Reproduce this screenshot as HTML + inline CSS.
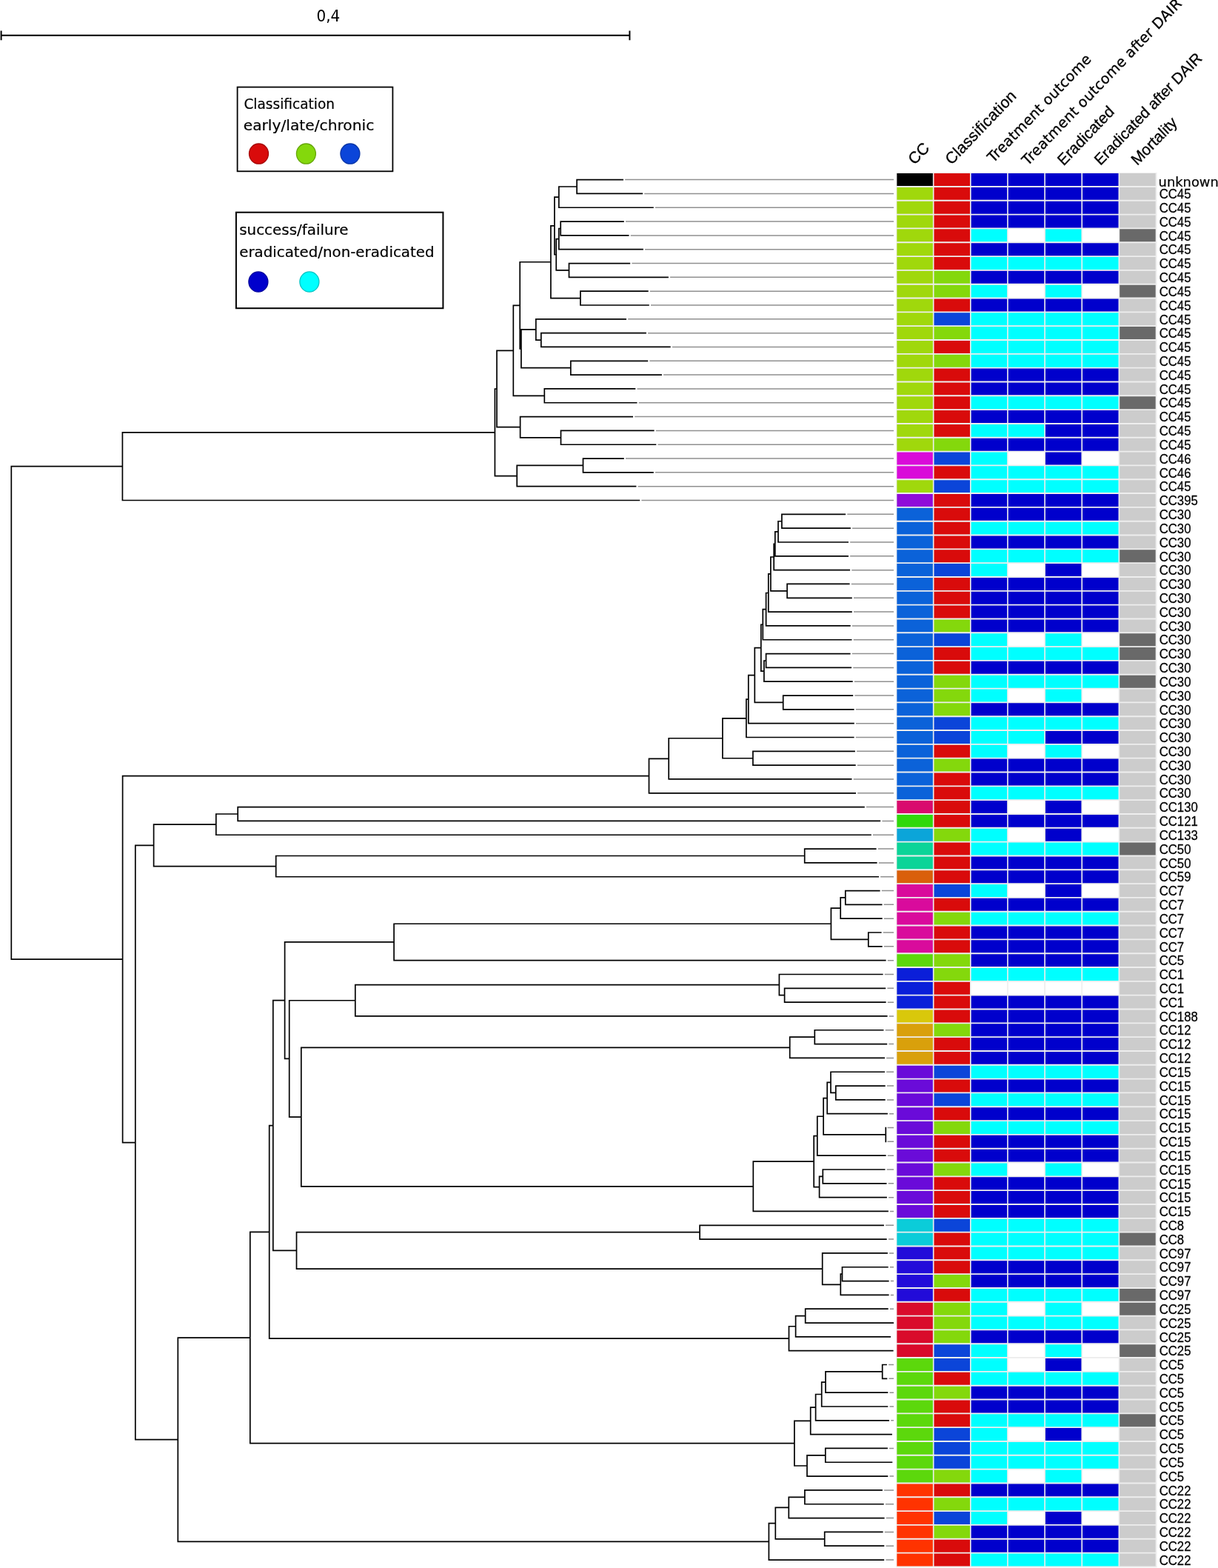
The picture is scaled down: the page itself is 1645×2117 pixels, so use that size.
<!DOCTYPE html>
<html lang="en">
<head>
<meta charset="utf-8">
<title>Phylogenetic tree with clinical metadata</title>
<style>
html,body{margin:0;padding:0;background:#fff}
body{width:1645px;height:2117px;overflow:hidden}
svg{display:block}
text{fill:#000}
.ls{font-family:"Liberation Sans",sans-serif}
.dv{font-family:"DejaVu Sans",sans-serif}
.hd{stroke:#000;stroke-width:0.3px}
.lg{stroke:#000;stroke-width:0.2px}
.rl text{stroke:#000;stroke-width:0.25px}
</style>
</head>
<body>
<svg width="1645" height="2117" viewBox="0 0 1645 2117" role="img" aria-label="Phylogenetic tree with clonal complex and clinical outcome heatmap">
<rect width="1645" height="2117" fill="#fff"/>
<g stroke="#000" stroke-width="2" fill="none"><path d="M1.5 47.8H850.5M1.6 41.4V54.2M850.4 41.4V54.2"/></g>
<text transform="translate(443.4 29.3) scale(1 1.06)" text-anchor="middle" class="dv" font-size="20">0,4</text>
<rect x="320.6" y="117.6" width="209.8" height="113.7" fill="#fff" stroke="#000" stroke-width="1.8"/>
<text x="329.4" y="147.4" class="dv lg" font-size="19.9" textLength="122.6" lengthAdjust="spacingAndGlyphs">Classification</text>
<text x="328.7" y="176.1" class="dv lg" font-size="19.9" textLength="176.6" lengthAdjust="spacingAndGlyphs">early/late/chronic</text>
<ellipse cx="349.5" cy="207.6" rx="13" ry="13.6" fill="#d90b0b" stroke="#a60808" stroke-width="1.3"/>
<ellipse cx="413.4" cy="207.6" rx="13" ry="13.6" fill="#84d80c" stroke="#66a609" stroke-width="1.3"/>
<ellipse cx="472.9" cy="207.6" rx="13" ry="13.6" fill="#0b45d9" stroke="#0835a6" stroke-width="1.3"/>
<rect x="318.9" y="286.7" width="279.5" height="129.5" fill="#fff" stroke="#000" stroke-width="2"/>
<text x="323.2" y="317.4" class="dv lg" font-size="19.9" textLength="147.4" lengthAdjust="spacingAndGlyphs">success/failure</text>
<text x="323.2" y="346.6" class="dv lg" font-size="19.9" textLength="263.3" lengthAdjust="spacingAndGlyphs">eradicated/non-eradicated</text>
<ellipse cx="348.9" cy="380.5" rx="13" ry="13.6" fill="#0000cc" stroke="#00009c" stroke-width="1.3"/>
<ellipse cx="417.9" cy="380.5" rx="13" ry="13.6" fill="#00ffff" stroke="#00c3c3" stroke-width="1.3"/>
<path d="M844.2 242.6H1207M870.3 261.42H1207M885 280.25H1207M845 299.07H1207M851.7 317.89H1207M871.1 336.71H1207M853.4 355.53H1207M905.1 374.36H1207M877.9 393.18H1207M879 412H1207M848.2 430.83H1207M875.1 449.65H1207M907.9 468.47H1207M877.4 487.29H1207M896.1 506.12H1207M860.5 524.94H1207M862.7 543.76H1207M857.2 562.58H1207M885.8 581.4H1207M888.5 600.23H1207M845 619.05H1207M885 637.87H1207M861.6 656.7H1207M866.4 675.52H1207M1144.3 694.34H1207M1151.1 713.16H1207M1148.2 731.99H1207M1148.2 750.81H1207M1150.3 769.63H1207M1149.8 788.45H1207M1153 807.28H1207M1153 826.1H1207M1150.9 844.92H1207M1152.7 863.74H1207M1150.8 882.57H1207M1152.3 901.39H1207M1153.9 920.21H1207M1154.4 939.03H1207M1155.8 957.86H1207M1156 976.68H1207M1155.8 995.5H1207M1157.1 1014.32H1207M1157.9 1033.14H1207M1152.7 1051.97H1207M1158.2 1070.79H1207M1170 1089.61H1207M1191.4 1108.43H1207M1179 1127.26H1207M1185.8 1146.08H1207M1186.8 1164.9H1207M1189.2 1183.73H1207M1190.8 1202.55H1207M1193.7 1221.37H1207M1193.9 1240.19H1207M1192.8 1259.02H1207M1193.9 1277.84H1207M1198.8 1296.66H1207M1194.8 1315.48H1207M1198.4 1334.31H1207M1198.8 1353.13H1207M1200.8 1371.95H1207M1195.7 1390.77H1207M1200.4 1409.6H1207M1197.2 1428.42H1207M1197.2 1447.24H1207M1197.9 1466.06H1207M1197.9 1484.88H1207M1201.1 1503.71H1207M1198.5 1522.53H1207M1198.5 1541.35H1207M1198.8 1560.17H1207M1197.7 1579H1207M1199.7 1597.82H1207M1200.1 1616.64H1207M1202.1 1635.46H1207M1196.1 1654.29H1207M1199.9 1673.11H1207M1201.1 1691.93H1207M1201.9 1710.76H1207M1202.8 1729.58H1207M1202.8 1748.4H1207M1201.9 1767.22H1207M1200.1 1842.51H1207M1200.5 1861.34H1207M1201.5 1880.16H1207M1201.5 1898.98H1207M1203.2 1917.8H1207M1201.1 1955.45H1207M1201.5 1993.09H1207M1194.1 2011.91H1207M1195.9 2030.74H1207M1196.8 2049.56H1207M1194.8 2068.38H1207M1196.5 2087.21H1207M1196.4 2106.03H1207" stroke="#909090" stroke-width="1.5" fill="none"/>
<path d="M778.25 242.6H842M778.25 261.42H868.1M779.1 241.75V262.27M753.95 252.01H779.1M753.95 280.25H882.8M754.8 251.16V281.1M748.05 266.13H754.8M756.35 299.07H842.8M756.35 317.89H849.5M757.2 298.22V318.74M753.95 308.48H757.2M753.95 336.71H868.9M754.8 307.63V337.56M750.35 322.6H754.8M767.65 355.53H851.2M767.65 374.36H902.9M768.5 354.68V375.21M750.35 364.95H768.5M751.2 321.75V365.8M748.05 343.77H751.2M748.9 265.28V344.62M743.05 304.95H748.9M783.05 393.18H875.7M783.05 412H876.8M783.9 392.33V412.85M743.05 402.59H783.9M743.9 304.1V403.44M701.35 353.77H743.9M722.95 430.83H846M729.95 449.65H872.9M729.95 468.47H905.7M730.8 448.8V469.32M722.95 459.06H730.8M723.8 429.98V459.91M703.05 444.94H723.8M769.95 487.29H875.2M769.95 506.12H893.9M770.8 486.44V506.97M703.05 496.7H770.8M703.9 444.09V497.55M701.35 470.82H703.9M702.2 352.92V471.67M692.45 412.3H702.2M734.45 524.94H858.3M734.45 543.76H860.5M735.3 524.09V544.61M692.45 534.35H735.3M693.3 411.45V535.2M670.15 473.32H693.3M701.75 562.58H855M756.65 581.4H883.6M756.65 600.23H886.3M757.5 580.55V601.08M701.75 590.82H757.5M702.6 561.73V591.67M670.15 576.7H702.6M671 472.47V577.55M667.55 525.01H671M786.65 619.05H842.8M786.65 637.87H882.8M787.5 618.2V638.72M697.35 628.46H787.5M697.35 656.7H859.4M698.2 627.61V657.55M667.55 642.58H698.2M668.4 524.16V643.43M164.55 583.79H668.4M164.55 675.52H864.2M165.4 582.94V676.37M14.45 629.66H165.4M1055.05 694.34H1142.1M1055.05 713.16H1148.9M1055.9 693.49V714.01M1050.15 703.75H1055.9M1050.15 731.99H1146M1051 702.9V732.84M1045.95 717.87H1051M1045.95 750.81H1146M1046.8 717.02V751.66M1044.35 734.34H1046.8M1044.35 769.63H1148.1M1045.2 733.49V770.48M1040.05 751.98H1045.2M1062.25 788.45H1147.6M1062.25 807.28H1150.8M1063.1 787.6V808.13M1040.05 797.86H1063.1M1040.9 751.13V798.71M1036.95 774.92H1040.9M1036.95 826.1H1150.8M1037.8 774.07V826.95M1033.75 800.51H1037.8M1033.75 844.92H1148.7M1034.6 799.66V845.77M1029.45 822.72H1034.6M1029.45 863.74H1150.5M1030.3 821.87V864.59M1026.95 843.23H1030.3M1033.75 882.57H1148.6M1033.75 901.39H1150.1M1034.6 881.72V902.24M1031.05 891.98H1034.6M1031.05 920.21H1151.7M1031.9 891.13V921.06M1026.95 906.09H1031.9M1027.8 842.38V906.94M1018.45 874.66H1027.8M1056.85 939.03H1152.2M1056.85 957.86H1153.6M1057.7 938.18V958.71M1018.45 948.44H1057.7M1019.3 873.81V949.29M1009.95 911.55H1019.3M1009.95 976.68H1153.8M1010.8 910.7V977.53M1007.05 944.11H1010.8M1007.05 995.5H1153.6M1007.9 943.26V996.35M975.05 969.81H1007.9M1016.05 1014.32H1154.9M1016.05 1033.14H1155.7M1016.9 1013.47V1033.99M975.05 1023.73H1016.9M975.9 968.96V1024.58M902.35 996.77H975.9M902.35 1051.97H1150.5M903.2 995.92V1052.82M875.65 1024.37H903.2M875.65 1070.79H1156M876.5 1023.52V1071.64M164.75 1047.58H876.5M320.35 1089.61H1167.8M320.35 1108.43H1189.2M321.2 1088.76V1109.28M290.95 1099.02H321.2M290.95 1127.26H1176.8M291.8 1098.17V1128.11M206.75 1113.14H291.8M1085.85 1146.08H1183.6M1085.85 1164.9H1184.6M1086.7 1145.23V1165.75M371.85 1155.49H1086.7M371.85 1183.73H1187M372.7 1154.64V1184.58M206.75 1169.61H372.7M207.6 1112.29V1170.46M181.95 1141.37H207.6M1140.95 1202.55H1188.6M1140.95 1221.37H1191.5M1141.8 1201.7V1222.22M1134.35 1211.96H1141.8M1134.35 1240.19H1191.7M1135.2 1211.11V1241.04M1121.55 1226.08H1135.2M1171.95 1259.02H1190.6M1171.95 1277.84H1191.7M1172.8 1258.17V1278.69M1121.55 1268.43H1172.8M1122.4 1225.23V1269.28M531.25 1247.25H1122.4M531.25 1296.66H1196.6M532.1 1246.4V1297.51M383.75 1271.96H532.1M1051.55 1315.48H1192.6M1058.75 1334.31H1196.2M1058.75 1353.13H1196.6M1059.6 1333.46V1353.98M1051.55 1343.72H1059.6M1052.4 1314.63V1344.57M478.95 1329.6H1052.4M478.95 1371.95H1198.6M479.8 1328.75V1372.8M389.85 1350.77H479.8M1099.45 1390.77H1193.5M1099.45 1409.6H1198.2M1100.3 1389.92V1410.44M1065.85 1400.18H1100.3M1065.85 1428.42H1195M1066.7 1399.33V1429.27M405.95 1414.3H1066.7M1121.15 1447.24H1195M1127.95 1466.06H1195.7M1127.95 1484.88H1195.7M1128.8 1465.21V1485.73M1121.15 1475.47H1128.8M1122 1446.39V1476.32M1116.35 1461.36H1122M1116.35 1503.71H1198.9M1117.2 1460.51V1504.56M1111.25 1482.53H1117.2M1196.3 1521.68V1542.2M1111.25 1531.94H1196.3M1112.1 1481.68V1532.79M1102.95 1507.24H1112.1M1102.95 1560.17H1196.6M1103.8 1506.39V1561.02M1098.35 1533.71H1103.8M1110.45 1579H1195.5M1110.45 1597.82H1197.5M1111.3 1578.15V1598.67M1105.75 1588.41H1111.3M1105.75 1616.64H1197.9M1106.6 1587.56V1617.49M1098.35 1602.53H1106.6M1099.2 1532.86V1603.38M1016.45 1568.12H1099.2M1016.45 1635.46H1199.9M1017.3 1567.27V1636.31M405.95 1601.79H1017.3M406.8 1413.45V1602.64M389.85 1508.05H406.8M390.7 1349.92V1508.9M383.75 1429.41H390.7M384.6 1271.11V1430.26M367.95 1350.68H384.6M944.25 1654.29H1193.9M944.25 1673.11H1197.7M945.1 1653.44V1673.96M399.65 1663.7H945.1M1109.85 1691.93H1198.9M1136.65 1710.76H1199.7M1136.65 1729.58H1200.6M1137.5 1709.91V1730.43M1134.45 1720.17H1137.5M1134.45 1748.4H1200.6M1135.3 1719.32V1749.25M1109.85 1734.28H1135.3M1110.7 1691.08V1735.13M399.65 1713.11H1110.7M400.5 1662.85V1713.96M367.95 1688.4H400.5M368.8 1349.83V1689.25M362.85 1519.54H368.8M1086.85 1767.22H1199.7M1086.85 1786.05H1207M1087.7 1766.37V1786.89M1073.75 1776.63H1087.7M1073.75 1804.87H1203M1074.6 1775.78V1805.72M1064.65 1790.75H1074.6M1064.65 1823.69H1206.6M1065.5 1789.9V1824.54M362.85 1807.22H1065.5M363.7 1518.69V1808.07M336.95 1663.38H363.7M1190.85 1842.51H1197.9M1190.85 1861.34H1198.3M1191.7 1841.66V1862.18M1114.15 1851.92H1191.7M1114.15 1880.16H1199.3M1115 1851.07V1881.01M1108.85 1866.04H1115M1108.85 1898.98H1199.3M1109.7 1865.19V1899.83M1100.75 1882.51H1109.7M1100.75 1917.8H1201M1101.6 1881.66V1918.65M1093.85 1900.16H1101.6M1093.85 1936.62H1204.9M1094.7 1899.31V1937.47M1072.05 1918.39H1094.7M1113.95 1955.45H1198.9M1113.95 1974.27H1205.3M1114.8 1954.6V1975.12M1089.15 1964.86H1114.8M1089.15 1993.09H1199.3M1090 1964.01V1993.94M1072.05 1978.98H1090M1072.9 1917.54V1979.83M336.95 1948.68H1072.9M337.8 1662.53V1949.53M239.45 1806.03H337.8M1086.05 2011.91H1191.9M1086.05 2030.74H1193.7M1086.9 2011.07V2031.59M1064.45 2021.33H1086.9M1064.45 2049.56H1194.6M1065.3 2020.48V2050.41M1046.45 2035.44H1065.3M1112.85 2068.38H1192.6M1112.85 2087.21H1194.3M1113.7 2067.53V2088.06M1046.45 2077.79H1113.7M1047.3 2034.59V2078.64M1037.55 2056.62H1047.3M1037.55 2106.03H1194.2M1038.4 2055.77V2106.88M239.45 2081.32H1038.4M240.3 1805.18V2082.17M181.95 1943.68H240.3M182.8 1140.52V1944.53M164.75 1542.53H182.8M165.6 1046.73V1543.38M14.45 1295.05H165.6M15.3 628.81V1295.9" stroke="#000" stroke-width="1.7" fill="none"/>
<rect x="1210.4" y="233" width="352.2" height="1883.3" fill="#eeeeee"/>
<path d="M1211.35 234.07h48.5v16.95h-48.5z" fill="#000000"/>
<path d="M1261.49 234.07h48.5v16.95h-48.5zM1261.49 252.9h48.5v16.95h-48.5zM1261.49 271.72h48.5v16.95h-48.5zM1261.49 290.54h48.5v16.95h-48.5zM1261.49 309.36h48.5v16.95h-48.5zM1261.49 328.19h48.5v16.95h-48.5zM1261.49 347.01h48.5v16.95h-48.5zM1261.49 403.48h48.5v16.95h-48.5zM1261.49 459.94h48.5v16.95h-48.5zM1261.49 497.59h48.5v16.95h-48.5zM1261.49 516.41h48.5v16.95h-48.5zM1261.49 535.24h48.5v16.95h-48.5zM1261.49 554.06h48.5v16.95h-48.5zM1261.49 572.88h48.5v16.95h-48.5zM1261.49 629.35h48.5v16.95h-48.5zM1261.49 666.99h48.5v16.95h-48.5zM1261.49 685.82h48.5v16.95h-48.5zM1261.49 704.64h48.5v16.95h-48.5zM1261.49 723.46h48.5v16.95h-48.5zM1261.49 742.28h48.5v16.95h-48.5zM1261.49 779.93h48.5v16.95h-48.5zM1261.49 798.75h48.5v16.95h-48.5zM1261.49 817.57h48.5v16.95h-48.5zM1261.49 874.04h48.5v16.95h-48.5zM1261.49 892.86h48.5v16.95h-48.5zM1261.49 1005.8h48.5v16.95h-48.5zM1261.49 1043.44h48.5v16.95h-48.5zM1261.49 1062.27h48.5v16.95h-48.5zM1261.49 1081.09h48.5v16.95h-48.5zM1261.49 1099.91h48.5v16.95h-48.5zM1261.49 1137.56h48.5v16.95h-48.5zM1261.49 1156.38h48.5v16.95h-48.5zM1261.49 1175.2h48.5v16.95h-48.5zM1261.49 1212.85h48.5v16.95h-48.5zM1261.49 1250.49h48.5v16.95h-48.5zM1261.49 1269.31h48.5v16.95h-48.5zM1261.49 1325.78h48.5v16.95h-48.5zM1261.49 1344.6h48.5v16.95h-48.5zM1261.49 1363.43h48.5v16.95h-48.5zM1261.49 1401.07h48.5v16.95h-48.5zM1261.49 1419.89h48.5v16.95h-48.5zM1261.49 1457.54h48.5v16.95h-48.5zM1261.49 1495.18h48.5v16.95h-48.5zM1261.49 1532.83h48.5v16.95h-48.5zM1261.49 1551.65h48.5v16.95h-48.5zM1261.49 1589.3h48.5v16.95h-48.5zM1261.49 1608.12h48.5v16.95h-48.5zM1261.49 1626.94h48.5v16.95h-48.5zM1261.49 1664.59h48.5v16.95h-48.5zM1261.49 1683.41h48.5v16.95h-48.5zM1261.49 1702.23h48.5v16.95h-48.5zM1261.49 1739.88h48.5v16.95h-48.5zM1261.49 1852.81h48.5v16.95h-48.5zM1261.49 1890.46h48.5v16.95h-48.5zM1261.49 1909.28h48.5v16.95h-48.5zM1261.49 2003.39h48.5v16.95h-48.5zM1261.49 2078.68h48.5v16.95h-48.5zM1261.49 2097.5h48.5v16.95h-48.5z" fill="#d90b0b"/>
<path d="M1311.63 234.07h48.5v16.95h-48.5zM1361.77 234.07h48.5v16.95h-48.5zM1411.91 234.07h48.5v16.95h-48.5zM1462.05 234.07h48.5v16.95h-48.5zM1311.63 252.9h48.5v16.95h-48.5zM1361.77 252.9h48.5v16.95h-48.5zM1411.91 252.9h48.5v16.95h-48.5zM1462.05 252.9h48.5v16.95h-48.5zM1311.63 271.72h48.5v16.95h-48.5zM1361.77 271.72h48.5v16.95h-48.5zM1411.91 271.72h48.5v16.95h-48.5zM1462.05 271.72h48.5v16.95h-48.5zM1311.63 290.54h48.5v16.95h-48.5zM1361.77 290.54h48.5v16.95h-48.5zM1411.91 290.54h48.5v16.95h-48.5zM1462.05 290.54h48.5v16.95h-48.5zM1311.63 328.19h48.5v16.95h-48.5zM1361.77 328.19h48.5v16.95h-48.5zM1411.91 328.19h48.5v16.95h-48.5zM1462.05 328.19h48.5v16.95h-48.5zM1311.63 365.83h48.5v16.95h-48.5zM1361.77 365.83h48.5v16.95h-48.5zM1411.91 365.83h48.5v16.95h-48.5zM1462.05 365.83h48.5v16.95h-48.5zM1311.63 403.48h48.5v16.95h-48.5zM1361.77 403.48h48.5v16.95h-48.5zM1411.91 403.48h48.5v16.95h-48.5zM1462.05 403.48h48.5v16.95h-48.5zM1311.63 497.59h48.5v16.95h-48.5zM1361.77 497.59h48.5v16.95h-48.5zM1411.91 497.59h48.5v16.95h-48.5zM1462.05 497.59h48.5v16.95h-48.5zM1311.63 516.41h48.5v16.95h-48.5zM1361.77 516.41h48.5v16.95h-48.5zM1411.91 516.41h48.5v16.95h-48.5zM1462.05 516.41h48.5v16.95h-48.5zM1311.63 554.06h48.5v16.95h-48.5zM1361.77 554.06h48.5v16.95h-48.5zM1411.91 554.06h48.5v16.95h-48.5zM1462.05 554.06h48.5v16.95h-48.5zM1411.91 572.88h48.5v16.95h-48.5zM1462.05 572.88h48.5v16.95h-48.5zM1311.63 591.7h48.5v16.95h-48.5zM1361.77 591.7h48.5v16.95h-48.5zM1411.91 591.7h48.5v16.95h-48.5zM1462.05 591.7h48.5v16.95h-48.5zM1411.91 610.53h48.5v16.95h-48.5zM1311.63 666.99h48.5v16.95h-48.5zM1361.77 666.99h48.5v16.95h-48.5zM1411.91 666.99h48.5v16.95h-48.5zM1462.05 666.99h48.5v16.95h-48.5zM1311.63 685.82h48.5v16.95h-48.5zM1361.77 685.82h48.5v16.95h-48.5zM1411.91 685.82h48.5v16.95h-48.5zM1462.05 685.82h48.5v16.95h-48.5zM1311.63 723.46h48.5v16.95h-48.5zM1361.77 723.46h48.5v16.95h-48.5zM1411.91 723.46h48.5v16.95h-48.5zM1462.05 723.46h48.5v16.95h-48.5zM1411.91 761.11h48.5v16.95h-48.5zM1311.63 779.93h48.5v16.95h-48.5zM1361.77 779.93h48.5v16.95h-48.5zM1411.91 779.93h48.5v16.95h-48.5zM1462.05 779.93h48.5v16.95h-48.5zM1311.63 798.75h48.5v16.95h-48.5zM1361.77 798.75h48.5v16.95h-48.5zM1411.91 798.75h48.5v16.95h-48.5zM1462.05 798.75h48.5v16.95h-48.5zM1311.63 817.57h48.5v16.95h-48.5zM1361.77 817.57h48.5v16.95h-48.5zM1411.91 817.57h48.5v16.95h-48.5zM1462.05 817.57h48.5v16.95h-48.5zM1311.63 836.4h48.5v16.95h-48.5zM1361.77 836.4h48.5v16.95h-48.5zM1411.91 836.4h48.5v16.95h-48.5zM1462.05 836.4h48.5v16.95h-48.5zM1311.63 892.86h48.5v16.95h-48.5zM1361.77 892.86h48.5v16.95h-48.5zM1411.91 892.86h48.5v16.95h-48.5zM1462.05 892.86h48.5v16.95h-48.5zM1311.63 949.33h48.5v16.95h-48.5zM1361.77 949.33h48.5v16.95h-48.5zM1411.91 949.33h48.5v16.95h-48.5zM1462.05 949.33h48.5v16.95h-48.5zM1411.91 986.98h48.5v16.95h-48.5zM1462.05 986.98h48.5v16.95h-48.5zM1311.63 1024.62h48.5v16.95h-48.5zM1361.77 1024.62h48.5v16.95h-48.5zM1411.91 1024.62h48.5v16.95h-48.5zM1462.05 1024.62h48.5v16.95h-48.5zM1311.63 1043.44h48.5v16.95h-48.5zM1361.77 1043.44h48.5v16.95h-48.5zM1411.91 1043.44h48.5v16.95h-48.5zM1462.05 1043.44h48.5v16.95h-48.5zM1311.63 1081.09h48.5v16.95h-48.5zM1411.91 1081.09h48.5v16.95h-48.5zM1311.63 1099.91h48.5v16.95h-48.5zM1361.77 1099.91h48.5v16.95h-48.5zM1411.91 1099.91h48.5v16.95h-48.5zM1462.05 1099.91h48.5v16.95h-48.5zM1411.91 1118.73h48.5v16.95h-48.5zM1311.63 1156.38h48.5v16.95h-48.5zM1361.77 1156.38h48.5v16.95h-48.5zM1411.91 1156.38h48.5v16.95h-48.5zM1462.05 1156.38h48.5v16.95h-48.5zM1311.63 1175.2h48.5v16.95h-48.5zM1361.77 1175.2h48.5v16.95h-48.5zM1411.91 1175.2h48.5v16.95h-48.5zM1462.05 1175.2h48.5v16.95h-48.5zM1411.91 1194.02h48.5v16.95h-48.5zM1311.63 1212.85h48.5v16.95h-48.5zM1361.77 1212.85h48.5v16.95h-48.5zM1411.91 1212.85h48.5v16.95h-48.5zM1462.05 1212.85h48.5v16.95h-48.5zM1311.63 1250.49h48.5v16.95h-48.5zM1361.77 1250.49h48.5v16.95h-48.5zM1411.91 1250.49h48.5v16.95h-48.5zM1462.05 1250.49h48.5v16.95h-48.5zM1311.63 1269.31h48.5v16.95h-48.5zM1361.77 1269.31h48.5v16.95h-48.5zM1411.91 1269.31h48.5v16.95h-48.5zM1462.05 1269.31h48.5v16.95h-48.5zM1311.63 1288.14h48.5v16.95h-48.5zM1361.77 1288.14h48.5v16.95h-48.5zM1411.91 1288.14h48.5v16.95h-48.5zM1462.05 1288.14h48.5v16.95h-48.5zM1311.63 1344.6h48.5v16.95h-48.5zM1361.77 1344.6h48.5v16.95h-48.5zM1411.91 1344.6h48.5v16.95h-48.5zM1462.05 1344.6h48.5v16.95h-48.5zM1311.63 1363.43h48.5v16.95h-48.5zM1361.77 1363.43h48.5v16.95h-48.5zM1411.91 1363.43h48.5v16.95h-48.5zM1462.05 1363.43h48.5v16.95h-48.5zM1311.63 1382.25h48.5v16.95h-48.5zM1361.77 1382.25h48.5v16.95h-48.5zM1411.91 1382.25h48.5v16.95h-48.5zM1462.05 1382.25h48.5v16.95h-48.5zM1311.63 1401.07h48.5v16.95h-48.5zM1361.77 1401.07h48.5v16.95h-48.5zM1411.91 1401.07h48.5v16.95h-48.5zM1462.05 1401.07h48.5v16.95h-48.5zM1311.63 1419.89h48.5v16.95h-48.5zM1361.77 1419.89h48.5v16.95h-48.5zM1411.91 1419.89h48.5v16.95h-48.5zM1462.05 1419.89h48.5v16.95h-48.5zM1311.63 1457.54h48.5v16.95h-48.5zM1361.77 1457.54h48.5v16.95h-48.5zM1411.91 1457.54h48.5v16.95h-48.5zM1462.05 1457.54h48.5v16.95h-48.5zM1311.63 1495.18h48.5v16.95h-48.5zM1361.77 1495.18h48.5v16.95h-48.5zM1411.91 1495.18h48.5v16.95h-48.5zM1462.05 1495.18h48.5v16.95h-48.5zM1311.63 1532.83h48.5v16.95h-48.5zM1361.77 1532.83h48.5v16.95h-48.5zM1411.91 1532.83h48.5v16.95h-48.5zM1462.05 1532.83h48.5v16.95h-48.5zM1311.63 1551.65h48.5v16.95h-48.5zM1361.77 1551.65h48.5v16.95h-48.5zM1411.91 1551.65h48.5v16.95h-48.5zM1462.05 1551.65h48.5v16.95h-48.5zM1311.63 1589.3h48.5v16.95h-48.5zM1361.77 1589.3h48.5v16.95h-48.5zM1411.91 1589.3h48.5v16.95h-48.5zM1462.05 1589.3h48.5v16.95h-48.5zM1311.63 1608.12h48.5v16.95h-48.5zM1361.77 1608.12h48.5v16.95h-48.5zM1411.91 1608.12h48.5v16.95h-48.5zM1462.05 1608.12h48.5v16.95h-48.5zM1311.63 1626.94h48.5v16.95h-48.5zM1361.77 1626.94h48.5v16.95h-48.5zM1411.91 1626.94h48.5v16.95h-48.5zM1462.05 1626.94h48.5v16.95h-48.5zM1311.63 1702.23h48.5v16.95h-48.5zM1361.77 1702.23h48.5v16.95h-48.5zM1411.91 1702.23h48.5v16.95h-48.5zM1462.05 1702.23h48.5v16.95h-48.5zM1311.63 1721.05h48.5v16.95h-48.5zM1361.77 1721.05h48.5v16.95h-48.5zM1411.91 1721.05h48.5v16.95h-48.5zM1462.05 1721.05h48.5v16.95h-48.5zM1311.63 1796.34h48.5v16.95h-48.5zM1361.77 1796.34h48.5v16.95h-48.5zM1411.91 1796.34h48.5v16.95h-48.5zM1462.05 1796.34h48.5v16.95h-48.5zM1411.91 1833.99h48.5v16.95h-48.5zM1311.63 1871.63h48.5v16.95h-48.5zM1361.77 1871.63h48.5v16.95h-48.5zM1411.91 1871.63h48.5v16.95h-48.5zM1462.05 1871.63h48.5v16.95h-48.5zM1311.63 1890.46h48.5v16.95h-48.5zM1361.77 1890.46h48.5v16.95h-48.5zM1411.91 1890.46h48.5v16.95h-48.5zM1462.05 1890.46h48.5v16.95h-48.5zM1411.91 1928.1h48.5v16.95h-48.5zM1311.63 2003.39h48.5v16.95h-48.5zM1361.77 2003.39h48.5v16.95h-48.5zM1411.91 2003.39h48.5v16.95h-48.5zM1462.05 2003.39h48.5v16.95h-48.5zM1411.91 2041.04h48.5v16.95h-48.5zM1311.63 2059.86h48.5v16.95h-48.5zM1361.77 2059.86h48.5v16.95h-48.5zM1411.91 2059.86h48.5v16.95h-48.5zM1462.05 2059.86h48.5v16.95h-48.5zM1311.63 2078.68h48.5v16.95h-48.5zM1361.77 2078.68h48.5v16.95h-48.5zM1411.91 2078.68h48.5v16.95h-48.5zM1462.05 2078.68h48.5v16.95h-48.5z" fill="#0000cc"/>
<path d="M1512.19 234.07h48.5v16.95h-48.5zM1512.19 252.9h48.5v16.95h-48.5zM1512.19 271.72h48.5v16.95h-48.5zM1512.19 290.54h48.5v16.95h-48.5zM1512.19 328.19h48.5v16.95h-48.5zM1512.19 347.01h48.5v16.95h-48.5zM1512.19 365.83h48.5v16.95h-48.5zM1512.19 403.48h48.5v16.95h-48.5zM1512.19 422.3h48.5v16.95h-48.5zM1512.19 459.94h48.5v16.95h-48.5zM1512.19 478.77h48.5v16.95h-48.5zM1512.19 497.59h48.5v16.95h-48.5zM1512.19 516.41h48.5v16.95h-48.5zM1512.19 554.06h48.5v16.95h-48.5zM1512.19 572.88h48.5v16.95h-48.5zM1512.19 591.7h48.5v16.95h-48.5zM1512.19 610.53h48.5v16.95h-48.5zM1512.19 629.35h48.5v16.95h-48.5zM1512.19 648.17h48.5v16.95h-48.5zM1512.19 666.99h48.5v16.95h-48.5zM1512.19 685.82h48.5v16.95h-48.5zM1512.19 704.64h48.5v16.95h-48.5zM1512.19 723.46h48.5v16.95h-48.5zM1512.19 761.11h48.5v16.95h-48.5zM1512.19 779.93h48.5v16.95h-48.5zM1512.19 798.75h48.5v16.95h-48.5zM1512.19 817.57h48.5v16.95h-48.5zM1512.19 836.4h48.5v16.95h-48.5zM1512.19 892.86h48.5v16.95h-48.5zM1512.19 930.51h48.5v16.95h-48.5zM1512.19 949.33h48.5v16.95h-48.5zM1512.19 968.15h48.5v16.95h-48.5zM1512.19 986.98h48.5v16.95h-48.5zM1512.19 1005.8h48.5v16.95h-48.5zM1512.19 1024.62h48.5v16.95h-48.5zM1512.19 1043.44h48.5v16.95h-48.5zM1512.19 1062.27h48.5v16.95h-48.5zM1512.19 1081.09h48.5v16.95h-48.5zM1512.19 1099.91h48.5v16.95h-48.5zM1512.19 1118.73h48.5v16.95h-48.5zM1512.19 1156.38h48.5v16.95h-48.5zM1512.19 1175.2h48.5v16.95h-48.5zM1512.19 1194.02h48.5v16.95h-48.5zM1512.19 1212.85h48.5v16.95h-48.5zM1512.19 1231.67h48.5v16.95h-48.5zM1512.19 1250.49h48.5v16.95h-48.5zM1512.19 1269.31h48.5v16.95h-48.5zM1512.19 1288.14h48.5v16.95h-48.5zM1512.19 1306.96h48.5v16.95h-48.5zM1512.19 1325.78h48.5v16.95h-48.5zM1512.19 1344.6h48.5v16.95h-48.5zM1512.19 1363.43h48.5v16.95h-48.5zM1512.19 1382.25h48.5v16.95h-48.5zM1512.19 1401.07h48.5v16.95h-48.5zM1512.19 1419.89h48.5v16.95h-48.5zM1512.19 1438.72h48.5v16.95h-48.5zM1512.19 1457.54h48.5v16.95h-48.5zM1512.19 1476.36h48.5v16.95h-48.5zM1512.19 1495.18h48.5v16.95h-48.5zM1512.19 1514.01h48.5v16.95h-48.5zM1512.19 1532.83h48.5v16.95h-48.5zM1512.19 1551.65h48.5v16.95h-48.5zM1512.19 1570.47h48.5v16.95h-48.5zM1512.19 1589.3h48.5v16.95h-48.5zM1512.19 1608.12h48.5v16.95h-48.5zM1512.19 1626.94h48.5v16.95h-48.5zM1512.19 1645.76h48.5v16.95h-48.5zM1512.19 1683.41h48.5v16.95h-48.5zM1512.19 1702.23h48.5v16.95h-48.5zM1512.19 1721.05h48.5v16.95h-48.5zM1512.19 1777.52h48.5v16.95h-48.5zM1512.19 1796.34h48.5v16.95h-48.5zM1512.19 1833.99h48.5v16.95h-48.5zM1512.19 1852.81h48.5v16.95h-48.5zM1512.19 1871.63h48.5v16.95h-48.5zM1512.19 1890.46h48.5v16.95h-48.5zM1512.19 1928.1h48.5v16.95h-48.5zM1512.19 1946.92h48.5v16.95h-48.5zM1512.19 1965.75h48.5v16.95h-48.5zM1512.19 1984.57h48.5v16.95h-48.5zM1512.19 2003.39h48.5v16.95h-48.5zM1512.19 2022.21h48.5v16.95h-48.5zM1512.19 2041.04h48.5v16.95h-48.5zM1512.19 2059.86h48.5v16.95h-48.5zM1512.19 2078.68h48.5v16.95h-48.5zM1512.19 2097.5h48.5v16.95h-48.5z" fill="#cccccc"/>
<path d="M1211.35 252.9h48.5v16.95h-48.5zM1211.35 271.72h48.5v16.95h-48.5zM1211.35 290.54h48.5v16.95h-48.5zM1211.35 309.36h48.5v16.95h-48.5zM1211.35 328.19h48.5v16.95h-48.5zM1211.35 347.01h48.5v16.95h-48.5zM1211.35 365.83h48.5v16.95h-48.5zM1211.35 384.65h48.5v16.95h-48.5zM1211.35 403.48h48.5v16.95h-48.5zM1211.35 422.3h48.5v16.95h-48.5zM1211.35 441.12h48.5v16.95h-48.5zM1211.35 459.94h48.5v16.95h-48.5zM1211.35 478.77h48.5v16.95h-48.5zM1211.35 497.59h48.5v16.95h-48.5zM1211.35 516.41h48.5v16.95h-48.5zM1211.35 535.24h48.5v16.95h-48.5zM1211.35 554.06h48.5v16.95h-48.5zM1211.35 572.88h48.5v16.95h-48.5zM1211.35 591.7h48.5v16.95h-48.5zM1211.35 648.17h48.5v16.95h-48.5z" fill="#a0d80c"/>
<path d="M1311.63 309.36h48.5v16.95h-48.5zM1411.91 309.36h48.5v16.95h-48.5zM1311.63 347.01h48.5v16.95h-48.5zM1361.77 347.01h48.5v16.95h-48.5zM1411.91 347.01h48.5v16.95h-48.5zM1462.05 347.01h48.5v16.95h-48.5zM1311.63 384.65h48.5v16.95h-48.5zM1411.91 384.65h48.5v16.95h-48.5zM1311.63 422.3h48.5v16.95h-48.5zM1361.77 422.3h48.5v16.95h-48.5zM1411.91 422.3h48.5v16.95h-48.5zM1462.05 422.3h48.5v16.95h-48.5zM1311.63 441.12h48.5v16.95h-48.5zM1361.77 441.12h48.5v16.95h-48.5zM1411.91 441.12h48.5v16.95h-48.5zM1462.05 441.12h48.5v16.95h-48.5zM1311.63 459.94h48.5v16.95h-48.5zM1361.77 459.94h48.5v16.95h-48.5zM1411.91 459.94h48.5v16.95h-48.5zM1462.05 459.94h48.5v16.95h-48.5zM1311.63 478.77h48.5v16.95h-48.5zM1361.77 478.77h48.5v16.95h-48.5zM1411.91 478.77h48.5v16.95h-48.5zM1462.05 478.77h48.5v16.95h-48.5zM1311.63 535.24h48.5v16.95h-48.5zM1361.77 535.24h48.5v16.95h-48.5zM1411.91 535.24h48.5v16.95h-48.5zM1462.05 535.24h48.5v16.95h-48.5zM1311.63 572.88h48.5v16.95h-48.5zM1361.77 572.88h48.5v16.95h-48.5zM1311.63 610.53h48.5v16.95h-48.5zM1311.63 629.35h48.5v16.95h-48.5zM1361.77 629.35h48.5v16.95h-48.5zM1411.91 629.35h48.5v16.95h-48.5zM1462.05 629.35h48.5v16.95h-48.5zM1311.63 648.17h48.5v16.95h-48.5zM1361.77 648.17h48.5v16.95h-48.5zM1411.91 648.17h48.5v16.95h-48.5zM1462.05 648.17h48.5v16.95h-48.5zM1311.63 704.64h48.5v16.95h-48.5zM1361.77 704.64h48.5v16.95h-48.5zM1411.91 704.64h48.5v16.95h-48.5zM1462.05 704.64h48.5v16.95h-48.5zM1311.63 742.28h48.5v16.95h-48.5zM1361.77 742.28h48.5v16.95h-48.5zM1411.91 742.28h48.5v16.95h-48.5zM1462.05 742.28h48.5v16.95h-48.5zM1311.63 761.11h48.5v16.95h-48.5zM1311.63 855.22h48.5v16.95h-48.5zM1411.91 855.22h48.5v16.95h-48.5zM1311.63 874.04h48.5v16.95h-48.5zM1361.77 874.04h48.5v16.95h-48.5zM1411.91 874.04h48.5v16.95h-48.5zM1462.05 874.04h48.5v16.95h-48.5zM1311.63 911.69h48.5v16.95h-48.5zM1361.77 911.69h48.5v16.95h-48.5zM1411.91 911.69h48.5v16.95h-48.5zM1462.05 911.69h48.5v16.95h-48.5zM1311.63 930.51h48.5v16.95h-48.5zM1411.91 930.51h48.5v16.95h-48.5zM1311.63 968.15h48.5v16.95h-48.5zM1361.77 968.15h48.5v16.95h-48.5zM1411.91 968.15h48.5v16.95h-48.5zM1462.05 968.15h48.5v16.95h-48.5zM1311.63 986.98h48.5v16.95h-48.5zM1361.77 986.98h48.5v16.95h-48.5zM1311.63 1005.8h48.5v16.95h-48.5zM1411.91 1005.8h48.5v16.95h-48.5zM1311.63 1062.27h48.5v16.95h-48.5zM1361.77 1062.27h48.5v16.95h-48.5zM1411.91 1062.27h48.5v16.95h-48.5zM1462.05 1062.27h48.5v16.95h-48.5zM1311.63 1118.73h48.5v16.95h-48.5zM1311.63 1137.56h48.5v16.95h-48.5zM1361.77 1137.56h48.5v16.95h-48.5zM1411.91 1137.56h48.5v16.95h-48.5zM1462.05 1137.56h48.5v16.95h-48.5zM1311.63 1194.02h48.5v16.95h-48.5zM1311.63 1231.67h48.5v16.95h-48.5zM1361.77 1231.67h48.5v16.95h-48.5zM1411.91 1231.67h48.5v16.95h-48.5zM1462.05 1231.67h48.5v16.95h-48.5zM1311.63 1306.96h48.5v16.95h-48.5zM1361.77 1306.96h48.5v16.95h-48.5zM1411.91 1306.96h48.5v16.95h-48.5zM1462.05 1306.96h48.5v16.95h-48.5zM1311.63 1438.72h48.5v16.95h-48.5zM1361.77 1438.72h48.5v16.95h-48.5zM1411.91 1438.72h48.5v16.95h-48.5zM1462.05 1438.72h48.5v16.95h-48.5zM1311.63 1476.36h48.5v16.95h-48.5zM1361.77 1476.36h48.5v16.95h-48.5zM1411.91 1476.36h48.5v16.95h-48.5zM1462.05 1476.36h48.5v16.95h-48.5zM1311.63 1514.01h48.5v16.95h-48.5zM1361.77 1514.01h48.5v16.95h-48.5zM1411.91 1514.01h48.5v16.95h-48.5zM1462.05 1514.01h48.5v16.95h-48.5zM1311.63 1570.47h48.5v16.95h-48.5zM1411.91 1570.47h48.5v16.95h-48.5zM1311.63 1645.76h48.5v16.95h-48.5zM1361.77 1645.76h48.5v16.95h-48.5zM1411.91 1645.76h48.5v16.95h-48.5zM1462.05 1645.76h48.5v16.95h-48.5zM1311.63 1664.59h48.5v16.95h-48.5zM1361.77 1664.59h48.5v16.95h-48.5zM1411.91 1664.59h48.5v16.95h-48.5zM1462.05 1664.59h48.5v16.95h-48.5zM1311.63 1683.41h48.5v16.95h-48.5zM1361.77 1683.41h48.5v16.95h-48.5zM1411.91 1683.41h48.5v16.95h-48.5zM1462.05 1683.41h48.5v16.95h-48.5zM1311.63 1739.88h48.5v16.95h-48.5zM1361.77 1739.88h48.5v16.95h-48.5zM1411.91 1739.88h48.5v16.95h-48.5zM1462.05 1739.88h48.5v16.95h-48.5zM1311.63 1758.7h48.5v16.95h-48.5zM1411.91 1758.7h48.5v16.95h-48.5zM1311.63 1777.52h48.5v16.95h-48.5zM1361.77 1777.52h48.5v16.95h-48.5zM1411.91 1777.52h48.5v16.95h-48.5zM1462.05 1777.52h48.5v16.95h-48.5zM1311.63 1815.17h48.5v16.95h-48.5zM1411.91 1815.17h48.5v16.95h-48.5zM1311.63 1833.99h48.5v16.95h-48.5zM1311.63 1852.81h48.5v16.95h-48.5zM1361.77 1852.81h48.5v16.95h-48.5zM1411.91 1852.81h48.5v16.95h-48.5zM1462.05 1852.81h48.5v16.95h-48.5zM1311.63 1909.28h48.5v16.95h-48.5zM1361.77 1909.28h48.5v16.95h-48.5zM1411.91 1909.28h48.5v16.95h-48.5zM1462.05 1909.28h48.5v16.95h-48.5zM1311.63 1928.1h48.5v16.95h-48.5zM1311.63 1946.92h48.5v16.95h-48.5zM1361.77 1946.92h48.5v16.95h-48.5zM1411.91 1946.92h48.5v16.95h-48.5zM1462.05 1946.92h48.5v16.95h-48.5zM1311.63 1965.75h48.5v16.95h-48.5zM1361.77 1965.75h48.5v16.95h-48.5zM1411.91 1965.75h48.5v16.95h-48.5zM1462.05 1965.75h48.5v16.95h-48.5zM1311.63 1984.57h48.5v16.95h-48.5zM1411.91 1984.57h48.5v16.95h-48.5zM1311.63 2022.21h48.5v16.95h-48.5zM1361.77 2022.21h48.5v16.95h-48.5zM1411.91 2022.21h48.5v16.95h-48.5zM1462.05 2022.21h48.5v16.95h-48.5zM1311.63 2041.04h48.5v16.95h-48.5zM1311.63 2097.5h48.5v16.95h-48.5zM1361.77 2097.5h48.5v16.95h-48.5zM1411.91 2097.5h48.5v16.95h-48.5zM1462.05 2097.5h48.5v16.95h-48.5z" fill="#00ffff"/>
<path d="M1361.77 309.36h48.5v16.95h-48.5zM1462.05 309.36h48.5v16.95h-48.5zM1361.77 384.65h48.5v16.95h-48.5zM1462.05 384.65h48.5v16.95h-48.5zM1361.77 610.53h48.5v16.95h-48.5zM1462.05 610.53h48.5v16.95h-48.5zM1361.77 761.11h48.5v16.95h-48.5zM1462.05 761.11h48.5v16.95h-48.5zM1361.77 855.22h48.5v16.95h-48.5zM1462.05 855.22h48.5v16.95h-48.5zM1361.77 930.51h48.5v16.95h-48.5zM1462.05 930.51h48.5v16.95h-48.5zM1361.77 1005.8h48.5v16.95h-48.5zM1462.05 1005.8h48.5v16.95h-48.5zM1361.77 1081.09h48.5v16.95h-48.5zM1462.05 1081.09h48.5v16.95h-48.5zM1361.77 1118.73h48.5v16.95h-48.5zM1462.05 1118.73h48.5v16.95h-48.5zM1361.77 1194.02h48.5v16.95h-48.5zM1462.05 1194.02h48.5v16.95h-48.5zM1311.63 1325.78h48.5v16.95h-48.5zM1361.77 1325.78h48.5v16.95h-48.5zM1411.91 1325.78h48.5v16.95h-48.5zM1462.05 1325.78h48.5v16.95h-48.5zM1361.77 1570.47h48.5v16.95h-48.5zM1462.05 1570.47h48.5v16.95h-48.5zM1361.77 1758.7h48.5v16.95h-48.5zM1462.05 1758.7h48.5v16.95h-48.5zM1361.77 1815.17h48.5v16.95h-48.5zM1462.05 1815.17h48.5v16.95h-48.5zM1361.77 1833.99h48.5v16.95h-48.5zM1462.05 1833.99h48.5v16.95h-48.5zM1361.77 1928.1h48.5v16.95h-48.5zM1462.05 1928.1h48.5v16.95h-48.5zM1361.77 1984.57h48.5v16.95h-48.5zM1462.05 1984.57h48.5v16.95h-48.5zM1361.77 2041.04h48.5v16.95h-48.5zM1462.05 2041.04h48.5v16.95h-48.5z" fill="#ffffff"/>
<path d="M1512.19 309.36h48.5v16.95h-48.5zM1512.19 384.65h48.5v16.95h-48.5zM1512.19 441.12h48.5v16.95h-48.5zM1512.19 535.24h48.5v16.95h-48.5zM1512.19 742.28h48.5v16.95h-48.5zM1512.19 855.22h48.5v16.95h-48.5zM1512.19 874.04h48.5v16.95h-48.5zM1512.19 911.69h48.5v16.95h-48.5zM1512.19 1137.56h48.5v16.95h-48.5zM1512.19 1664.59h48.5v16.95h-48.5zM1512.19 1739.88h48.5v16.95h-48.5zM1512.19 1758.7h48.5v16.95h-48.5zM1512.19 1815.17h48.5v16.95h-48.5zM1512.19 1909.28h48.5v16.95h-48.5z" fill="#696969"/>
<path d="M1261.49 365.83h48.5v16.95h-48.5zM1261.49 384.65h48.5v16.95h-48.5zM1261.49 441.12h48.5v16.95h-48.5zM1261.49 478.77h48.5v16.95h-48.5zM1261.49 591.7h48.5v16.95h-48.5zM1261.49 836.4h48.5v16.95h-48.5zM1261.49 911.69h48.5v16.95h-48.5zM1261.49 930.51h48.5v16.95h-48.5zM1261.49 949.33h48.5v16.95h-48.5zM1261.49 1024.62h48.5v16.95h-48.5zM1261.49 1118.73h48.5v16.95h-48.5zM1261.49 1231.67h48.5v16.95h-48.5zM1261.49 1288.14h48.5v16.95h-48.5zM1261.49 1306.96h48.5v16.95h-48.5zM1261.49 1382.25h48.5v16.95h-48.5zM1261.49 1514.01h48.5v16.95h-48.5zM1261.49 1570.47h48.5v16.95h-48.5zM1261.49 1721.05h48.5v16.95h-48.5zM1261.49 1758.7h48.5v16.95h-48.5zM1261.49 1777.52h48.5v16.95h-48.5zM1261.49 1796.34h48.5v16.95h-48.5zM1261.49 1871.63h48.5v16.95h-48.5zM1261.49 1984.57h48.5v16.95h-48.5zM1261.49 2022.21h48.5v16.95h-48.5zM1261.49 2059.86h48.5v16.95h-48.5z" fill="#84d80c"/>
<path d="M1261.49 422.3h48.5v16.95h-48.5zM1261.49 610.53h48.5v16.95h-48.5zM1261.49 648.17h48.5v16.95h-48.5zM1261.49 761.11h48.5v16.95h-48.5zM1261.49 855.22h48.5v16.95h-48.5zM1261.49 968.15h48.5v16.95h-48.5zM1261.49 986.98h48.5v16.95h-48.5zM1261.49 1194.02h48.5v16.95h-48.5zM1261.49 1438.72h48.5v16.95h-48.5zM1261.49 1476.36h48.5v16.95h-48.5zM1261.49 1645.76h48.5v16.95h-48.5zM1261.49 1815.17h48.5v16.95h-48.5zM1261.49 1833.99h48.5v16.95h-48.5zM1261.49 1928.1h48.5v16.95h-48.5zM1261.49 1946.92h48.5v16.95h-48.5zM1261.49 1965.75h48.5v16.95h-48.5zM1261.49 2041.04h48.5v16.95h-48.5z" fill="#0b45d9"/>
<path d="M1211.35 610.53h48.5v16.95h-48.5zM1211.35 629.35h48.5v16.95h-48.5z" fill="#d90bd9"/>
<path d="M1211.35 666.99h48.5v16.95h-48.5z" fill="#8f0bd9"/>
<path d="M1211.35 685.82h48.5v16.95h-48.5zM1211.35 704.64h48.5v16.95h-48.5zM1211.35 723.46h48.5v16.95h-48.5zM1211.35 742.28h48.5v16.95h-48.5zM1211.35 761.11h48.5v16.95h-48.5zM1211.35 779.93h48.5v16.95h-48.5zM1211.35 798.75h48.5v16.95h-48.5zM1211.35 817.57h48.5v16.95h-48.5zM1211.35 836.4h48.5v16.95h-48.5zM1211.35 855.22h48.5v16.95h-48.5zM1211.35 874.04h48.5v16.95h-48.5zM1211.35 892.86h48.5v16.95h-48.5zM1211.35 911.69h48.5v16.95h-48.5zM1211.35 930.51h48.5v16.95h-48.5zM1211.35 949.33h48.5v16.95h-48.5zM1211.35 968.15h48.5v16.95h-48.5zM1211.35 986.98h48.5v16.95h-48.5zM1211.35 1005.8h48.5v16.95h-48.5zM1211.35 1024.62h48.5v16.95h-48.5zM1211.35 1043.44h48.5v16.95h-48.5zM1211.35 1062.27h48.5v16.95h-48.5z" fill="#0b62d9"/>
<path d="M1211.35 1081.09h48.5v16.95h-48.5z" fill="#d90b6e"/>
<path d="M1211.35 1099.91h48.5v16.95h-48.5z" fill="#30d80c"/>
<path d="M1211.35 1118.73h48.5v16.95h-48.5z" fill="#0ba5d9"/>
<path d="M1211.35 1137.56h48.5v16.95h-48.5zM1211.35 1156.38h48.5v16.95h-48.5z" fill="#0bd498"/>
<path d="M1211.35 1175.2h48.5v16.95h-48.5z" fill="#d95f0b"/>
<path d="M1211.35 1194.02h48.5v16.95h-48.5zM1211.35 1212.85h48.5v16.95h-48.5zM1211.35 1231.67h48.5v16.95h-48.5zM1211.35 1250.49h48.5v16.95h-48.5zM1211.35 1269.31h48.5v16.95h-48.5z" fill="#d90b9c"/>
<path d="M1211.35 1288.14h48.5v16.95h-48.5zM1211.35 1833.99h48.5v16.95h-48.5zM1211.35 1852.81h48.5v16.95h-48.5zM1211.35 1871.63h48.5v16.95h-48.5zM1211.35 1890.46h48.5v16.95h-48.5zM1211.35 1909.28h48.5v16.95h-48.5zM1211.35 1928.1h48.5v16.95h-48.5zM1211.35 1946.92h48.5v16.95h-48.5zM1211.35 1965.75h48.5v16.95h-48.5zM1211.35 1984.57h48.5v16.95h-48.5z" fill="#5cd80c"/>
<path d="M1211.35 1306.96h48.5v16.95h-48.5zM1211.35 1325.78h48.5v16.95h-48.5zM1211.35 1344.6h48.5v16.95h-48.5z" fill="#0b1fd9"/>
<path d="M1211.35 1363.43h48.5v16.95h-48.5z" fill="#d9c80b"/>
<path d="M1211.35 1382.25h48.5v16.95h-48.5zM1211.35 1401.07h48.5v16.95h-48.5zM1211.35 1419.89h48.5v16.95h-48.5z" fill="#d9a00b"/>
<path d="M1211.35 1438.72h48.5v16.95h-48.5zM1211.35 1457.54h48.5v16.95h-48.5zM1211.35 1476.36h48.5v16.95h-48.5zM1211.35 1495.18h48.5v16.95h-48.5zM1211.35 1514.01h48.5v16.95h-48.5zM1211.35 1532.83h48.5v16.95h-48.5zM1211.35 1551.65h48.5v16.95h-48.5zM1211.35 1570.47h48.5v16.95h-48.5zM1211.35 1589.3h48.5v16.95h-48.5zM1211.35 1608.12h48.5v16.95h-48.5zM1211.35 1626.94h48.5v16.95h-48.5z" fill="#6a0bd9"/>
<path d="M1211.35 1645.76h48.5v16.95h-48.5zM1211.35 1664.59h48.5v16.95h-48.5z" fill="#0bccd9"/>
<path d="M1211.35 1683.41h48.5v16.95h-48.5zM1211.35 1702.23h48.5v16.95h-48.5zM1211.35 1721.05h48.5v16.95h-48.5zM1211.35 1739.88h48.5v16.95h-48.5z" fill="#220bd9"/>
<path d="M1211.35 1758.7h48.5v16.95h-48.5zM1211.35 1777.52h48.5v16.95h-48.5zM1211.35 1796.34h48.5v16.95h-48.5zM1211.35 1815.17h48.5v16.95h-48.5z" fill="#d90b2b"/>
<path d="M1211.35 2003.39h48.5v16.95h-48.5zM1211.35 2022.21h48.5v16.95h-48.5zM1211.35 2041.04h48.5v16.95h-48.5zM1211.35 2059.86h48.5v16.95h-48.5zM1211.35 2078.68h48.5v16.95h-48.5zM1211.35 2097.5h48.5v16.95h-48.5z" fill="#ff3300"/>
<text transform="translate(1235 223.6) scale(1 1.045) rotate(-45)" class="ls hd" font-size="21.0">CC</text>
<text transform="translate(1285 223.6) scale(1 1.045) rotate(-45)" class="ls hd" font-size="20.8" textLength="125.5" lengthAdjust="spacing">Classification</text>
<text transform="translate(1341.5 220.5) scale(1 1.045) rotate(-45)" class="dv hd" font-size="18.9" textLength="188.5" lengthAdjust="spacing">Treatment outcome</text>
<text transform="translate(1388 224.5) scale(1 1.045) rotate(-45)" class="dv hd" font-size="18.9" textLength="295.5" lengthAdjust="spacing">Treatment outcome after DAIR</text>
<text transform="translate(1436.5 224.7) scale(1 1.045) rotate(-45)" class="ls hd" font-size="20.6">Eradicated</text>
<text transform="translate(1486.3 224.3) scale(1 1.045) rotate(-45)" class="ls hd" font-size="20.3" textLength="195.5" lengthAdjust="spacing">Eradicated after DAIR</text>
<text transform="translate(1536 224.3) scale(1 1.045) rotate(-45)" class="ls hd" font-size="20.6">Mortality</text>
<text x="1564.6" y="251.7" class="dv" font-size="17.4" textLength="81.2" lengthAdjust="spacingAndGlyphs" style="stroke:#000;stroke-width:0.2px">unknown</text>
<g transform="scale(1 1.068)" class="rl">
<text x="1565.7" y="251.05" class="ls" font-size="16.75">CC45</text>
<text x="1565.7" y="268.68" class="ls" font-size="16.75">CC45</text>
<text x="1565.7" y="286.3" class="ls" font-size="16.75">CC45</text>
<text x="1565.7" y="303.92" class="ls" font-size="16.75">CC45</text>
<text x="1565.7" y="321.55" class="ls" font-size="16.75">CC45</text>
<text x="1565.7" y="339.17" class="ls" font-size="16.75">CC45</text>
<text x="1565.7" y="356.8" class="ls" font-size="16.75">CC45</text>
<text x="1565.7" y="374.42" class="ls" font-size="16.75">CC45</text>
<text x="1565.7" y="392.04" class="ls" font-size="16.75">CC45</text>
<text x="1565.7" y="409.67" class="ls" font-size="16.75">CC45</text>
<text x="1565.7" y="427.29" class="ls" font-size="16.75">CC45</text>
<text x="1565.7" y="444.92" class="ls" font-size="16.75">CC45</text>
<text x="1565.7" y="462.54" class="ls" font-size="16.75">CC45</text>
<text x="1565.7" y="480.16" class="ls" font-size="16.75">CC45</text>
<text x="1565.7" y="497.79" class="ls" font-size="16.75">CC45</text>
<text x="1565.7" y="515.41" class="ls" font-size="16.75">CC45</text>
<text x="1565.7" y="533.04" class="ls" font-size="16.75">CC45</text>
<text x="1565.7" y="550.66" class="ls" font-size="16.75">CC45</text>
<text x="1565.7" y="568.28" class="ls" font-size="16.75">CC45</text>
<text x="1565.7" y="585.91" class="ls" font-size="16.75">CC46</text>
<text x="1565.7" y="603.53" class="ls" font-size="16.75">CC46</text>
<text x="1565.7" y="621.16" class="ls" font-size="16.75">CC45</text>
<text x="1565.7" y="638.78" class="ls" font-size="16.75">CC395</text>
<text x="1565.7" y="656.4" class="ls" font-size="16.75">CC30</text>
<text x="1565.7" y="674.03" class="ls" font-size="16.75">CC30</text>
<text x="1565.7" y="691.65" class="ls" font-size="16.75">CC30</text>
<text x="1565.7" y="709.28" class="ls" font-size="16.75">CC30</text>
<text x="1565.7" y="726.9" class="ls" font-size="16.75">CC30</text>
<text x="1565.7" y="744.52" class="ls" font-size="16.75">CC30</text>
<text x="1565.7" y="762.15" class="ls" font-size="16.75">CC30</text>
<text x="1565.7" y="779.77" class="ls" font-size="16.75">CC30</text>
<text x="1565.7" y="797.4" class="ls" font-size="16.75">CC30</text>
<text x="1565.7" y="815.02" class="ls" font-size="16.75">CC30</text>
<text x="1565.7" y="832.65" class="ls" font-size="16.75">CC30</text>
<text x="1565.7" y="850.27" class="ls" font-size="16.75">CC30</text>
<text x="1565.7" y="867.89" class="ls" font-size="16.75">CC30</text>
<text x="1565.7" y="885.52" class="ls" font-size="16.75">CC30</text>
<text x="1565.7" y="903.14" class="ls" font-size="16.75">CC30</text>
<text x="1565.7" y="920.77" class="ls" font-size="16.75">CC30</text>
<text x="1565.7" y="938.39" class="ls" font-size="16.75">CC30</text>
<text x="1565.7" y="956.01" class="ls" font-size="16.75">CC30</text>
<text x="1565.7" y="973.64" class="ls" font-size="16.75">CC30</text>
<text x="1565.7" y="991.26" class="ls" font-size="16.75">CC30</text>
<text x="1565.7" y="1008.89" class="ls" font-size="16.75">CC30</text>
<text x="1565.7" y="1026.51" class="ls" font-size="16.75">CC130</text>
<text x="1565.7" y="1044.13" class="ls" font-size="16.75">CC121</text>
<text x="1565.7" y="1061.76" class="ls" font-size="16.75">CC133</text>
<text x="1565.7" y="1079.38" class="ls" font-size="16.75">CC50</text>
<text x="1565.7" y="1097.01" class="ls" font-size="16.75">CC50</text>
<text x="1565.7" y="1114.63" class="ls" font-size="16.75">CC59</text>
<text x="1565.7" y="1132.25" class="ls" font-size="16.75">CC7</text>
<text x="1565.7" y="1149.88" class="ls" font-size="16.75">CC7</text>
<text x="1565.7" y="1167.5" class="ls" font-size="16.75">CC7</text>
<text x="1565.7" y="1185.13" class="ls" font-size="16.75">CC7</text>
<text x="1565.7" y="1202.75" class="ls" font-size="16.75">CC7</text>
<text x="1565.7" y="1220.37" class="ls" font-size="16.75">CC5</text>
<text x="1565.7" y="1238" class="ls" font-size="16.75">CC1</text>
<text x="1565.7" y="1255.62" class="ls" font-size="16.75">CC1</text>
<text x="1565.7" y="1273.25" class="ls" font-size="16.75">CC1</text>
<text x="1565.7" y="1290.87" class="ls" font-size="16.75">CC188</text>
<text x="1565.7" y="1308.49" class="ls" font-size="16.75">CC12</text>
<text x="1565.7" y="1326.12" class="ls" font-size="16.75">CC12</text>
<text x="1565.7" y="1343.74" class="ls" font-size="16.75">CC12</text>
<text x="1565.7" y="1361.37" class="ls" font-size="16.75">CC15</text>
<text x="1565.7" y="1378.99" class="ls" font-size="16.75">CC15</text>
<text x="1565.7" y="1396.62" class="ls" font-size="16.75">CC15</text>
<text x="1565.7" y="1414.24" class="ls" font-size="16.75">CC15</text>
<text x="1565.7" y="1431.86" class="ls" font-size="16.75">CC15</text>
<text x="1565.7" y="1449.49" class="ls" font-size="16.75">CC15</text>
<text x="1565.7" y="1467.11" class="ls" font-size="16.75">CC15</text>
<text x="1565.7" y="1484.74" class="ls" font-size="16.75">CC15</text>
<text x="1565.7" y="1502.36" class="ls" font-size="16.75">CC15</text>
<text x="1565.7" y="1519.98" class="ls" font-size="16.75">CC15</text>
<text x="1565.7" y="1537.61" class="ls" font-size="16.75">CC15</text>
<text x="1565.7" y="1555.23" class="ls" font-size="16.75">CC8</text>
<text x="1565.7" y="1572.86" class="ls" font-size="16.75">CC8</text>
<text x="1565.7" y="1590.48" class="ls" font-size="16.75">CC97</text>
<text x="1565.7" y="1608.1" class="ls" font-size="16.75">CC97</text>
<text x="1565.7" y="1625.73" class="ls" font-size="16.75">CC97</text>
<text x="1565.7" y="1643.35" class="ls" font-size="16.75">CC97</text>
<text x="1565.7" y="1660.98" class="ls" font-size="16.75">CC25</text>
<text x="1565.7" y="1678.6" class="ls" font-size="16.75">CC25</text>
<text x="1565.7" y="1696.22" class="ls" font-size="16.75">CC25</text>
<text x="1565.7" y="1713.85" class="ls" font-size="16.75">CC25</text>
<text x="1565.7" y="1731.47" class="ls" font-size="16.75">CC5</text>
<text x="1565.7" y="1749.1" class="ls" font-size="16.75">CC5</text>
<text x="1565.7" y="1766.72" class="ls" font-size="16.75">CC5</text>
<text x="1565.7" y="1784.34" class="ls" font-size="16.75">CC5</text>
<text x="1565.7" y="1801.97" class="ls" font-size="16.75">CC5</text>
<text x="1565.7" y="1819.59" class="ls" font-size="16.75">CC5</text>
<text x="1565.7" y="1837.22" class="ls" font-size="16.75">CC5</text>
<text x="1565.7" y="1854.84" class="ls" font-size="16.75">CC5</text>
<text x="1565.7" y="1872.46" class="ls" font-size="16.75">CC5</text>
<text x="1565.7" y="1890.09" class="ls" font-size="16.75">CC22</text>
<text x="1565.7" y="1907.71" class="ls" font-size="16.75">CC22</text>
<text x="1565.7" y="1925.34" class="ls" font-size="16.75">CC22</text>
<text x="1565.7" y="1942.96" class="ls" font-size="16.75">CC22</text>
<text x="1565.7" y="1960.59" class="ls" font-size="16.75">CC22</text>
<text x="1565.7" y="1978.21" class="ls" font-size="16.75">CC22</text>
</g>
</svg>
</body>
</html>
